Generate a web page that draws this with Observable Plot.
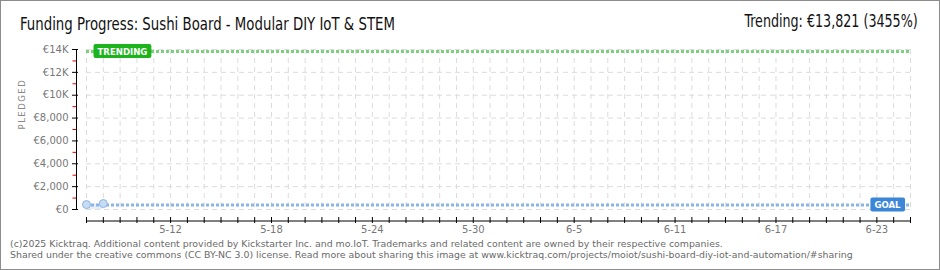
<!DOCTYPE html>
<html>
<head>
<meta charset="utf-8">
<script src="https://cdn.jsdelivr.net/npm/d3@7"></script>
<script src="https://cdn.jsdelivr.net/npm/@observablehq/plot@0.6"></script>
<style>
  html, body { margin: 0; padding: 0; background: #fff; }
  #wrap { position: relative; width: 940px; height: 270px; overflow: hidden; background: #fff; }
  #frame { position: absolute; left: 0; top: 0; width: 940px; height: 270px; box-sizing: border-box; border: 1px solid #8c8c8c; pointer-events: none; }
  #chart { position: absolute; left: 0; top: 0; }
  .hdr { position: absolute; font-family: "Liberation Sans Narrow", "DejaVu Sans Condensed", sans-serif; font-size: 17px; line-height: 17px; color: #111; white-space: nowrap; }
  #title { left: 20px; top: 16px; transform-origin: 0 0; transform: scaleX(0.87); }
  #trend { right: 22px; top: 13px; transform-origin: 100% 0; transform: scaleX(0.83); }
  #foot { position: absolute; left: 10px; top: 238px; font-family: "DejaVu Sans", sans-serif; font-size: 9.4px; line-height: 11px; color: #6a6a6a; white-space: nowrap; }
</style>
</head>
<body>
<div id="wrap">
  <div id="chart"></div>
  <div id="title" class="hdr"></div>
  <div id="trend" class="hdr"></div>
  <div id="foot"></div>
  <div id="frame"></div>
</div>
<script>
// ---- data ----
const titleText = "Funding Progress: Sushi Board - Modular DIY IoT & STEM";
const trendText = "Trending: €13,821 (3455%)";
const footerLines = [
  "(c)2025 Kicktraq. Additional content provided by Kickstarter Inc. and mo.IoT. Trademarks and related content are owned by their respective companies.",
  "Shared under the creative commons (CC BY-NC 3.0) license. Read more about sharing this image at www.kicktraq.com/projects/moiot/sushi-board-diy-iot-and-automation/#sharing"
];
const dates = ["2025-05-07", "2025-05-08"];
const pledged = [430, 520];
const goal = 400;
const trending = 13821;
const xDomain = ["2025-05-07", "2025-06-25"];
const yDomain = [0, 14000];
const yTicks = [0, 2000, 4000, 6000, 8000, 10000, 12000, 14000];
const yTickLabels = ["€0", "€2,000", "€4,000", "€6,000", "€8,000", "€10K", "€12K", "€14K"];
const yMinorTicks = [1000, 3000, 5000, 7000, 9000, 11000, 13000];
const xLabelDates = ["2025-05-12", "2025-05-18", "2025-05-24", "2025-05-30", "2025-06-05", "2025-06-11", "2025-06-17", "2025-06-23"];
const xTickLabels = ["5-12", "5-18", "5-24", "5-30", "6-5", "6-11", "6-17", "6-23"];
const yLabel = "PLEDGED";
const trendBadge = "TRENDING";
const goalBadge = "GOAL";

// ---- build ----
document.getElementById("title").textContent = titleText;
document.getElementById("trend").textContent = trendText;
document.getElementById("foot").innerHTML = footerLines.map(s => s.replace(/&/g, "&amp;")).join("<br>");

const parse = d3.utcParse("%Y-%m-%d");
const data = dates.map((d, i) => ({date: parse(d), value: pledged[i]}));
const x0 = parse(xDomain[0]), x1 = parse(xDomain[1]);
const dayTicks = d3.utcDay.range(x0, d3.utcDay.offset(x1, 1));
const labelDates = xLabelDates.map(parse);
const fmtX = d => xTickLabels[labelDates.findIndex(t => +t === +d)];
const fmtY = d => yTickLabels[yTicks.indexOf(d)];

const chart = Plot.plot({
  width: 940,
  height: 270,
  marginLeft: 86,
  marginRight: 30,
  marginTop: 49,
  marginBottom: 61,
  style: {background: "transparent", fontFamily: "DejaVu Sans, sans-serif", fontSize: "10px", color: "#777", overflow: "visible"},
  x: {type: "utc", domain: [x0, x1]},
  y: {domain: yDomain},
  marks: [
    Plot.gridX({ticks: dayTicks, stroke: "#dcdcdc", strokeOpacity: 1, strokeDasharray: "5,4"}),
    Plot.gridY({ticks: yTicks, stroke: "#dcdcdc", strokeOpacity: 1, strokeDasharray: "5,4"}),
    // y axis
    Plot.ruleX([x0], {y1: 0, y2: yDomain[1], dx: -10, stroke: "#000"}),
    Plot.axisY({ticks: yMinorTicks, tickSize: 3.5, dx: -10, stroke: "#e00000", fill: "none", tickFormat: () => "", label: null}),
    Plot.axisY({ticks: yTicks, tickSize: 6, tickPadding: 4, dx: -8, stroke: "#000", fill: "#777", fontSize: 10, tickFormat: fmtY, label: null}),
    Plot.text([yLabel], {frameAnchor: "left", dx: -64, rotate: -90, fill: "#888", fontSize: 8.5}),
    // x axis
    Plot.ruleY([0], {dy: 11.5, stroke: "#000"}),
    Plot.axisX({ticks: dayTicks, tickSize: 6, dy: 8, stroke: "#000", fill: "none", tickFormat: () => "", label: null}),
    Plot.axisX({ticks: labelDates, tickSize: 0, tickPadding: 0, dy: 16, fill: "#777", fontSize: 10, tickFormat: fmtX, label: null}),
    // data
    Plot.areaY(data, {x: "date", y: "value", fill: "#e6eff9"}),
    Plot.ruleY([trending], {stroke: "#7ccf7c", strokeWidth: 3, strokeDasharray: "3,2"}),
    Plot.ruleY([goal], {stroke: "#8ab6e7", strokeWidth: 3, strokeDasharray: "3,2"}),
    Plot.dot(data, {x: "date", y: "value", r: 4, fill: "#c6dcf4", stroke: "#8fb4df", strokeWidth: 1}),
    // badges
    Plot.text([trendBadge], {x: () => x0, y: () => trending, textAnchor: "start", dx: 11, fill: "#fff", fontSize: 9.5, fontWeight: "bold", fontFamily: "DejaVu Sans Condensed, sans-serif"}),
    Plot.text([goalBadge], {x: () => x1, y: () => goal, textAnchor: "end", dx: -10, fill: "#fff", fontSize: 9.5, fontWeight: "bold", fontFamily: "DejaVu Sans Condensed, sans-serif"})
  ]
});
document.getElementById("chart").appendChild(chart);

const allText = Array.from(chart.querySelectorAll("text"));
// letter spacing for the y label
allText.filter(t => t.textContent === yLabel).forEach(t => t.setAttribute("letter-spacing", "1.5"));

// badge boxes behind badge texts
function badge(label, color) {
  allText.filter(t => t.textContent === label).forEach(t => {
    const bb = t.getBBox();
    const r = document.createElementNS("http://www.w3.org/2000/svg", "rect");
    r.setAttribute("x", bb.x - 4);
    r.setAttribute("y", bb.y - 1.5);
    r.setAttribute("width", bb.width + 8);
    r.setAttribute("height", bb.height + 3);
    r.setAttribute("rx", 2);
    r.setAttribute("fill", color);
    const tr = t.getAttribute("transform");
    if (tr) r.setAttribute("transform", tr);
    t.parentNode.insertBefore(r, t);
  });
}
badge(trendBadge, "#1db31d");
badge(goalBadge, "#3b86d7");
</script>
</body>
</html>
